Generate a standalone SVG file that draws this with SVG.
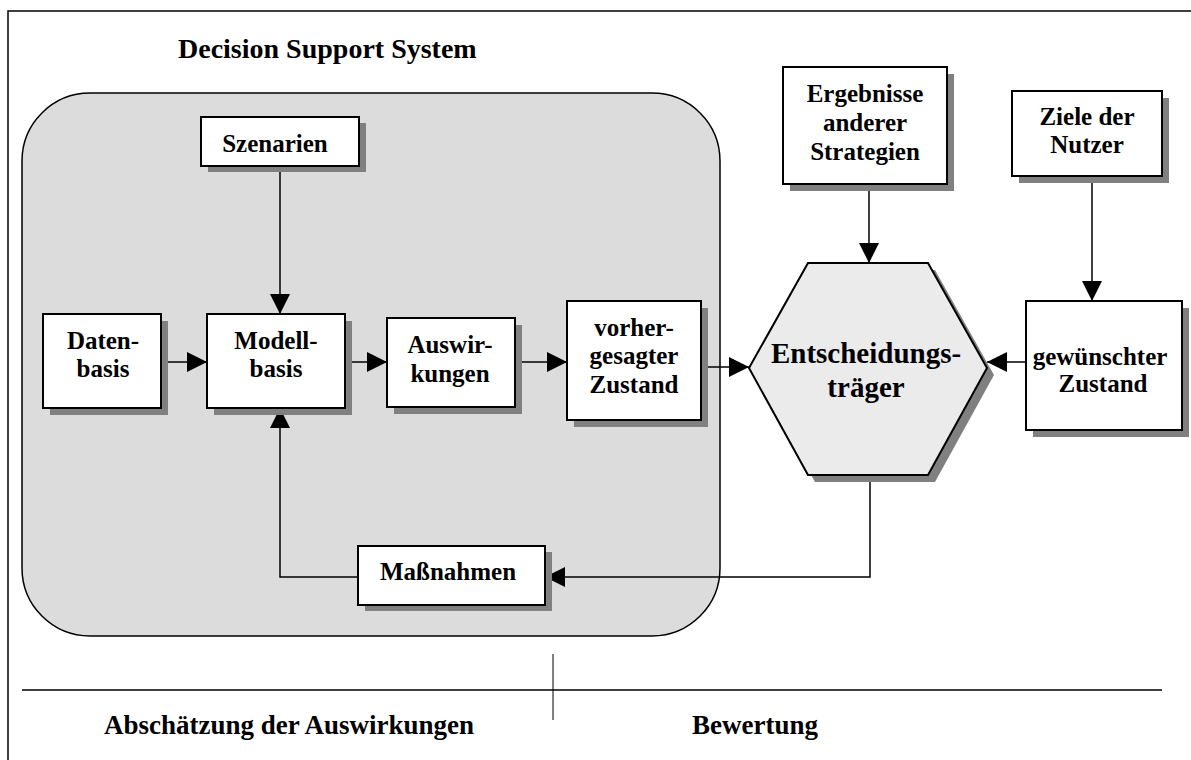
<svg xmlns="http://www.w3.org/2000/svg" width="1191" height="760" viewBox="0 0 1191 760">
<defs>
<marker id="ah" viewBox="0 0 20 20" refX="20" refY="10" markerWidth="20" markerHeight="20" markerUnits="userSpaceOnUse" orient="auto">
<path d="M0,0 L20,10 L0,20 Z" fill="#000"/>
</marker>
</defs>
<style>
.box{fill:#fff;stroke:#000;stroke-width:2}
.sh{fill:#808080}
.t{font-family:"Liberation Serif","Times New Roman",serif;font-weight:bold;font-size:25px;text-anchor:middle;fill:#000}
.big{font-size:29px}
.title{font-size:28px;text-anchor:start}
.foot{font-size:27px}
.con{fill:none;stroke:#000;stroke-width:1.5}
.frame{fill:none;stroke:#000;stroke-width:1.5}
</style>
<rect x="0" y="0" width="1191" height="760" fill="#fff"/>
<rect class="frame" x="8" y="11" width="1200" height="780"/>
<g id="dss">
<rect x="22" y="93" width="698" height="543" rx="68" ry="68" fill="#dcdcdc" stroke="#000" stroke-width="1.5"/>
<text class="t title" x="178" y="58">Decision Support System</text>
</g>
<g id="connectors">
<line class="con" x1="280" y1="166" x2="280" y2="314" marker-end="url(#ah)"/>
<line class="con" x1="161" y1="362" x2="207" y2="362" marker-end="url(#ah)"/>
<line class="con" x1="345" y1="362" x2="387" y2="362" marker-end="url(#ah)"/>
<line class="con" x1="514" y1="362" x2="567" y2="362" marker-end="url(#ah)"/>
<line class="con" x1="701" y1="367" x2="749" y2="367" marker-end="url(#ah)"/>
<line class="con" x1="869" y1="184" x2="869" y2="263" marker-end="url(#ah)"/>
<line class="con" x1="1092" y1="176" x2="1092" y2="301" marker-end="url(#ah)"/>
<line class="con" x1="1026" y1="362" x2="987" y2="362" marker-end="url(#ah)"/>
<polyline class="con" points="870,475 870,577 545,577" marker-end="url(#ah)"/>
<polyline class="con" points="358,577 280,577 280,408" marker-end="url(#ah)"/>
</g>
<g id="szenarien">
<rect class="sh" x="208" y="123" width="158" height="49"/>
<rect class="box" x="201" y="117" width="158" height="49"/>
<text class="t" x="275" y="152">Szenarien</text>
</g>
<g id="datenbasis">
<rect class="sh" x="50" y="321" width="118" height="94"/>
<rect class="box" x="43" y="314" width="118" height="94"/>
<text class="t" x="103" y="349">Daten-</text>
<text class="t" x="103" y="377">basis</text>
</g>
<g id="modellbasis">
<rect class="sh" x="214" y="321" width="138" height="94"/>
<rect class="box" x="207" y="314" width="138" height="94"/>
<text class="t" x="276" y="349">Modell-</text>
<text class="t" x="276" y="377">basis</text>
</g>
<g id="auswirkungen">
<rect class="sh" x="394" y="325" width="128" height="89"/>
<rect class="box" x="387" y="318" width="128" height="89"/>
<text class="t" x="450" y="353">Auswir-</text>
<text class="t" x="450" y="382">kungen</text>
</g>
<g id="vorhergesagt">
<rect class="sh" x="574" y="308" width="134" height="119"/>
<rect class="box" x="567" y="301" width="134" height="119"/>
<text class="t" x="634" y="336">vorher-</text>
<text class="t" x="634" y="364">gesagter</text>
<text class="t" x="634" y="393">Zustand</text>
</g>
<g id="entscheidungstraeger">
<polygon class="sh" points="756,375 815,270 935,270 994,375 935,482 815,482"/>
<polygon points="749,368 808,263 928,263 987,368 928,475 808,475" fill="#ebebeb" stroke="#000" stroke-width="2"/>
<text class="t big" x="866" y="363">Entscheidungs-</text>
<text class="t big" x="866" y="397">träger</text>
</g>
<g id="ergebnisse">
<rect class="sh" x="790" y="74" width="164" height="117"/>
<rect class="box" x="783" y="67" width="164" height="117"/>
<text class="t" x="865" y="102">Ergebnisse</text>
<text class="t" x="865" y="131">anderer</text>
<text class="t" x="865" y="160">Strategien</text>
</g>
<g id="ziele">
<rect class="sh" x="1019" y="98" width="150" height="85"/>
<rect class="box" x="1012" y="91" width="150" height="85"/>
<text class="t" x="1087" y="125">Ziele der</text>
<text class="t" x="1087" y="153">Nutzer</text>
</g>
<g id="gewuenscht">
<rect class="sh" x="1033" y="308" width="156" height="129"/>
<rect class="box" x="1026" y="301" width="156" height="129"/>
<text class="t" x="1100" y="365">gewünschter</text>
<text class="t" x="1103" y="392">Zustand</text>
</g>
<g id="massnahmen">
<rect class="sh" x="365" y="552" width="187" height="59"/>
<rect class="box" x="358" y="546" width="187" height="59"/>
<text class="t" x="448" y="580">Maßnahmen</text>
</g>
<g id="footer">
<line x1="22" y1="690" x2="1162" y2="690" stroke="#000" stroke-width="1.5"/>
<line x1="553" y1="654" x2="553" y2="720" stroke="#000" stroke-width="1"/>
<text class="t foot" x="104" y="734" text-anchor="start" style="text-anchor:start">Abschätzung der Auswirkungen</text>
<text class="t foot" x="755" y="734">Bewertung</text>
</g>
</svg>
